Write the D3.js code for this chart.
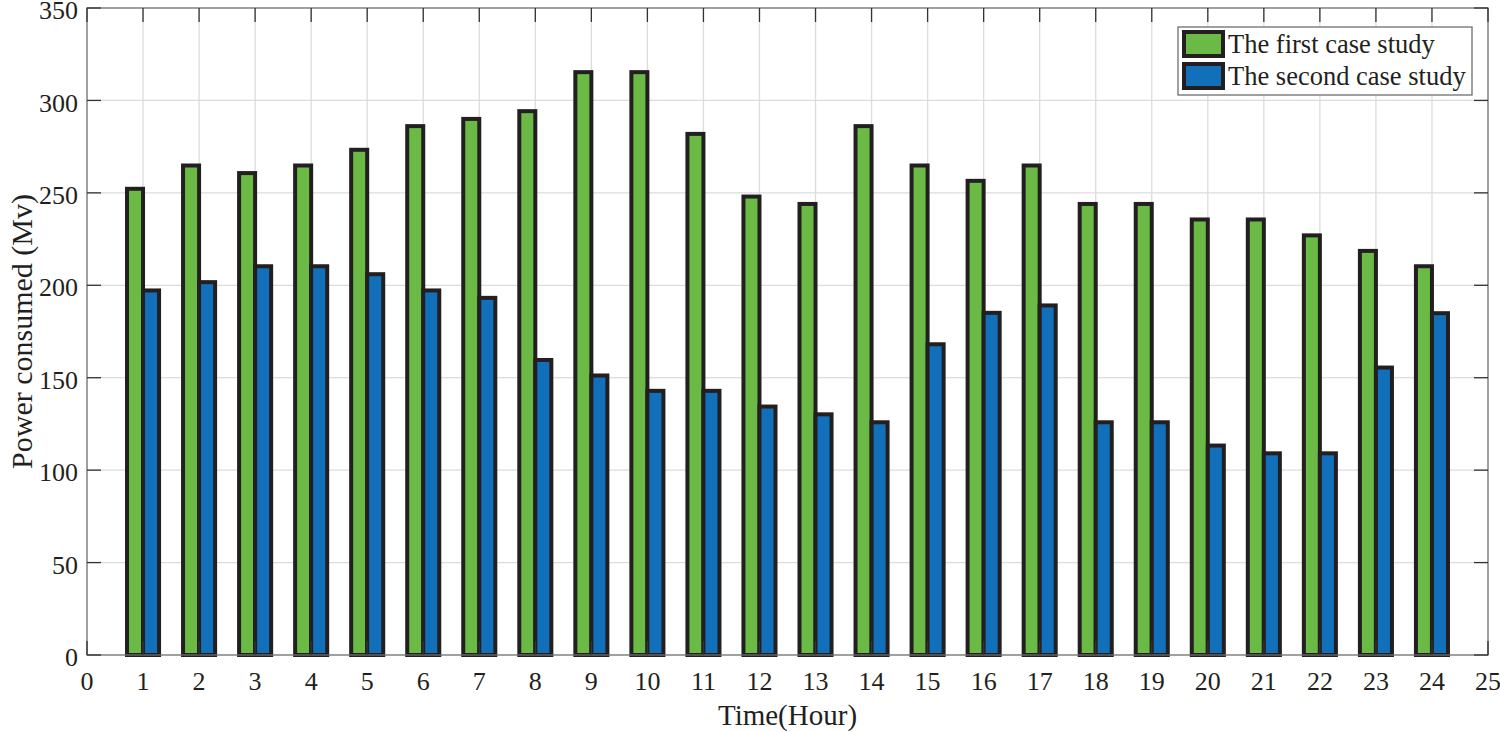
<!DOCTYPE html>
<html>
<head>
<meta charset="utf-8">
<script src="https://cdn.jsdelivr.net/npm/d3@7"></script>
<style>
  html, body { margin: 0; padding: 0; background: #fff; }
  svg { display: block; }
</style>
</head>
<body>
<svg id="chart" width="1500" height="732"></svg>
<script>
const hours = d3.range(1, 25);
const firstCase = [252.2, 264.8, 260.7, 264.8, 273.3, 286.1, 290.0, 294.2, 315.3, 315.3, 281.9, 248.0,
                   244.0, 286.1, 264.8, 256.5, 264.8, 244.0, 244.0, 235.6, 235.6, 227.0, 218.6, 210.3];
const secondCase = [197.2, 201.7, 210.3, 210.3, 206.0, 197.2, 193.2, 159.6, 151.2, 142.9, 142.9, 134.4,
                    130.2, 125.9, 168.1, 185.1, 189.1, 125.9, 125.9, 113.3, 109.1, 109.1, 155.5, 184.9];
const seriesNames = ["The first case study", "The second case study"];
const seriesColors = ["#6aba45", "#1270ba"];
const xTicks = d3.range(0, 26);
const yTicks = d3.range(0, 351, 50);

const FONT = "'Liberation Serif', 'Times New Roman', Times, serif";
const svg = d3.select("#chart").attr("font-family", FONT);
const m = { left: 87, right: 1488, top: 8, bottom: 655 };
const x = d3.scaleLinear().domain([0, 25]).range([m.left, m.right]);
const y = d3.scaleLinear().domain([0, 350]).range([m.bottom, m.top]);
const edge = "#231f20";
const axisCol = "#6e6e6e";
const txtCol = "#231f20";

// grid
const grid = svg.append("g");
grid.selectAll(".gx").data(xTicks.slice(1, -1)).enter().append("line")
  .attr("x1", d => x(d)).attr("x2", d => x(d)).attr("y1", m.top).attr("y2", m.bottom)
  .attr("stroke", "#dcdcdc").attr("stroke-width", 1.3);
grid.selectAll(".gy").data(yTicks.slice(1, -1)).enter().append("line")
  .attr("y1", d => y(d)).attr("y2", d => y(d)).attr("x1", m.left).attr("x2", m.right)
  .attr("stroke", "#dcdcdc").attr("stroke-width", 1.3);

// bars
const bw = 0.286;
const series = [firstCase, secondCase];
series.forEach((vals, si) => {
  svg.append("g").selectAll("rect").data(vals).enter().append("rect")
    .attr("x", (d, i) => x(hours[i] + (si === 0 ? -bw : 0)))
    .attr("width", x(bw) - x(0))
    .attr("y", d => y(d))
    .attr("height", d => y(0) - y(d))
    .attr("fill", seriesColors[si])
    .attr("stroke", edge).attr("stroke-width", 4);
});

// axes box
svg.append("rect").attr("x", m.left).attr("y", m.top)
  .attr("width", m.right - m.left).attr("height", m.bottom - m.top)
  .attr("fill", "none").attr("stroke", axisCol).attr("stroke-width", 1.3);

// ticks (inward) on all sides
const tl = 14;
const tk = svg.append("g").attr("stroke", "#333").attr("stroke-width", 1.3);
xTicks.forEach(t => {
  tk.append("line").attr("x1", x(t)).attr("x2", x(t)).attr("y1", m.bottom).attr("y2", m.bottom - tl);
  tk.append("line").attr("x1", x(t)).attr("x2", x(t)).attr("y1", m.top).attr("y2", m.top + tl);
});
yTicks.forEach(t => {
  tk.append("line").attr("y1", y(t)).attr("y2", y(t)).attr("x1", m.left).attr("x2", m.left + tl);
  tk.append("line").attr("y1", y(t)).attr("y2", y(t)).attr("x1", m.right).attr("x2", m.right - tl);
});

// tick labels
svg.append("g").selectAll("text").data(xTicks).enter().append("text")
  .attr("x", d => x(d)).attr("y", 690).attr("text-anchor", "middle")
  .attr("font-size", 26).attr("fill", txtCol).text(d => d);
svg.append("g").selectAll("text").data(yTicks).enter().append("text")
  .attr("x", 78).attr("y", d => y(d)).attr("dy", "0.43em").attr("text-anchor", "end")
  .attr("font-size", 26).attr("fill", txtCol).text(d => d);

// axis labels
svg.append("text").attr("x", x(12.5)).attr("y", 725).attr("text-anchor", "middle")
  .attr("font-size", 29).attr("fill", txtCol).text("Time(Hour)");
svg.append("text").attr("transform", `translate(32,${(m.top + m.bottom) / 2}) rotate(-90)`)
  .attr("text-anchor", "middle").attr("font-size", 30).attr("fill", txtCol).text("Power consumed (Mv)");

// legend
const lg = svg.append("g");
lg.append("rect").attr("x", 1178).attr("y", 27).attr("width", 294).attr("height", 68)
  .attr("fill", "#fff").attr("stroke", axisCol).attr("stroke-width", 1.3);
seriesNames.forEach((name, i) => {
  const yy = 32 + i * 32;
  lg.append("rect").attr("x", 1184).attr("y", yy).attr("width", 39).attr("height", 24)
    .attr("fill", seriesColors[i]).attr("stroke", edge).attr("stroke-width", 4);
  lg.append("text").attr("x", 1228).attr("y", yy + 21).attr("font-size", 26.5)
    .attr("fill", txtCol).text(name);
});
</script>
</body>
</html>
